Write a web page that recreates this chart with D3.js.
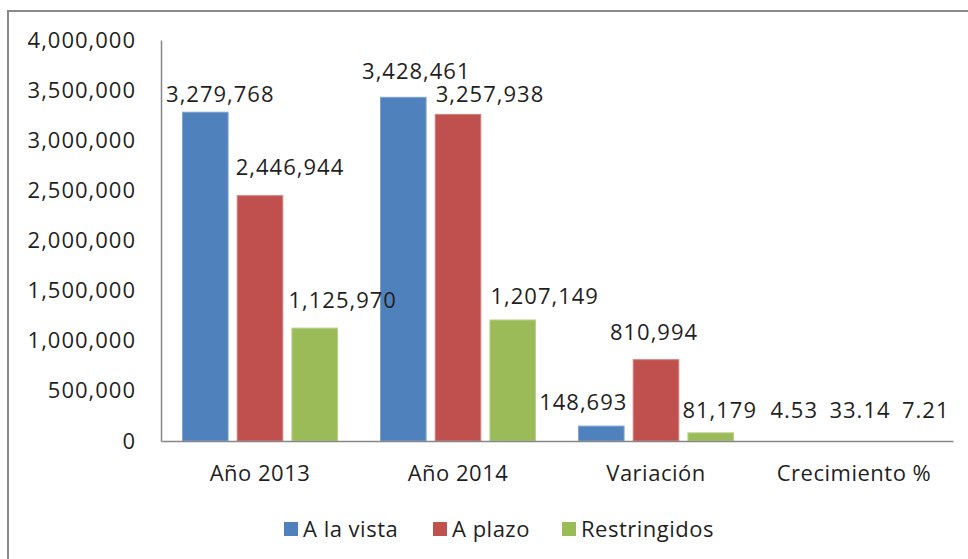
<!DOCTYPE html>
<html><head><meta charset="utf-8">
<script src="https://cdn.jsdelivr.net/npm/d3@7"></script>
<style>
html,body{margin:0;padding:0;background:#fff;}
svg{display:block;font-family:"Open Sans",sans-serif;}
</style></head>
<body><svg id="c" width="968" height="559"></svg>
<script>
const categories = ["Año 2013", "Año 2014", "Variación", "Crecimiento %"];
const seriesNames = ["A la vista", "A plazo", "Restringidos"];
const aLaVista = [3279768, 3428461, 148693, 4.53];
const aPlazo = [2446944, 3257938, 810994, 33.14];
const restringidos = [1125970, 1207149, 81179, 7.21];
const yTicks = [0, 500000, 1000000, 1500000, 2000000, 2500000, 3000000, 3500000, 4000000];
const colors = ["#4F81BD", "#C0504D", "#9BBB59"];
const strokes = ["#7FA3D1", "#D47E7C", "#B7CF88"];
// manual label nudges (px) relative to bar centre / bar top, as placed in the original
const labelDx = [[15, 13, -18, -5], [30, 32, -2, 6], [28, 32, 9, 17]];
const labelDy = [[-18, -26, -24, -31], [-28, -20, -27, -31], [-28, -24, -23, -31]];

const series = [aLaVista, aPlazo, restringidos];
const svg = d3.select("#c");
const pLeft = 161, pRight = 953, pTop = 40, pBottom = 441;
const textColor = "#1f1f1f";
const fs = 22;

svg.append("rect").attr("x", 8).attr("y", 11).attr("width", 1000).attr("height", 600)
  .attr("fill", "#fff").attr("stroke", "#8a8a8a").attr("stroke-width", 2);

const y = d3.scaleLinear().domain([0, 4000000]).range([pBottom, pTop]);
const x0 = d3.scaleBand().domain(categories).range([pLeft, pRight]).padding(0);
const x1 = d3.scaleBand().domain(d3.range(3)).range([21.5, x0.bandwidth() - 21.5]).paddingInner(0.167).paddingOuter(0);

// y axis
const yAxis = d3.axisLeft(y).tickValues(yTicks).tickSize(0).tickPadding(25).tickFormat(d3.format(","));
const gy = svg.append("g").attr("transform", `translate(${pLeft},0)`).call(yAxis);
gy.select(".domain").attr("stroke", "#868686").attr("stroke-width", 1.5);
gy.selectAll("text").attr("font-size", fs).attr("fill", textColor).attr("font-family", "Open Sans").style("letter-spacing", "1px");

// bars
const g = svg.append("g");
series.forEach((vals, si) => {
  g.selectAll(".b" + si).data(vals).enter().append("rect")
    .attr("x", (d, i) => x0(categories[i]) + x1(si))
    .attr("width", x1.bandwidth())
    .attr("y", d => y(d))
    .attr("height", d => pBottom - y(d))
    .attr("fill", colors[si])
    .attr("stroke", d => (pBottom - y(d)) > 2 ? strokes[si] : "none").attr("stroke-width", 1);
});

// x axis
const xAxis = d3.axisBottom(x0).tickSize(0).tickPadding(24);
const gx = svg.append("g").attr("transform", `translate(0,${pBottom})`).call(xAxis);
gx.select(".domain").attr("stroke", "#868686").attr("stroke-width", 1.5);
gx.selectAll("text").attr("font-size", fs).attr("fill", textColor).attr("font-family", "Open Sans").style("letter-spacing", "0.5px");

// labels
const fmt = v => v < 100 ? d3.format(".2f")(v) : d3.format(",")(v);
series.forEach((vals, si) => {
  g.selectAll(".l" + si).data(vals).enter().append("text")
    .attr("x", (d, i) => x0(categories[i]) + x1(si) + x1.bandwidth() / 2 + labelDx[si][i])
    .attr("y", (d, i) => y(d) + labelDy[si][i])
    .attr("dy", "0.35em")
    .attr("text-anchor", "middle")
    .attr("font-size", fs).attr("fill", textColor).style("letter-spacing", "1px")
    .text(fmt);
});

// legend
const legX = [284, 433, 562];
const lg = svg.append("g");
seriesNames.forEach((n, i) => {
  lg.append("rect").attr("x", legX[i]).attr("y", 522).attr("width", 14).attr("height", 14).attr("fill", colors[i]);
  lg.append("text").attr("x", legX[i] + 19).attr("y", 529).attr("dy", "0.35em")
    .attr("font-size", fs).attr("fill", textColor).style("letter-spacing", "0.5px").text(n);
});
</script></body></html>
